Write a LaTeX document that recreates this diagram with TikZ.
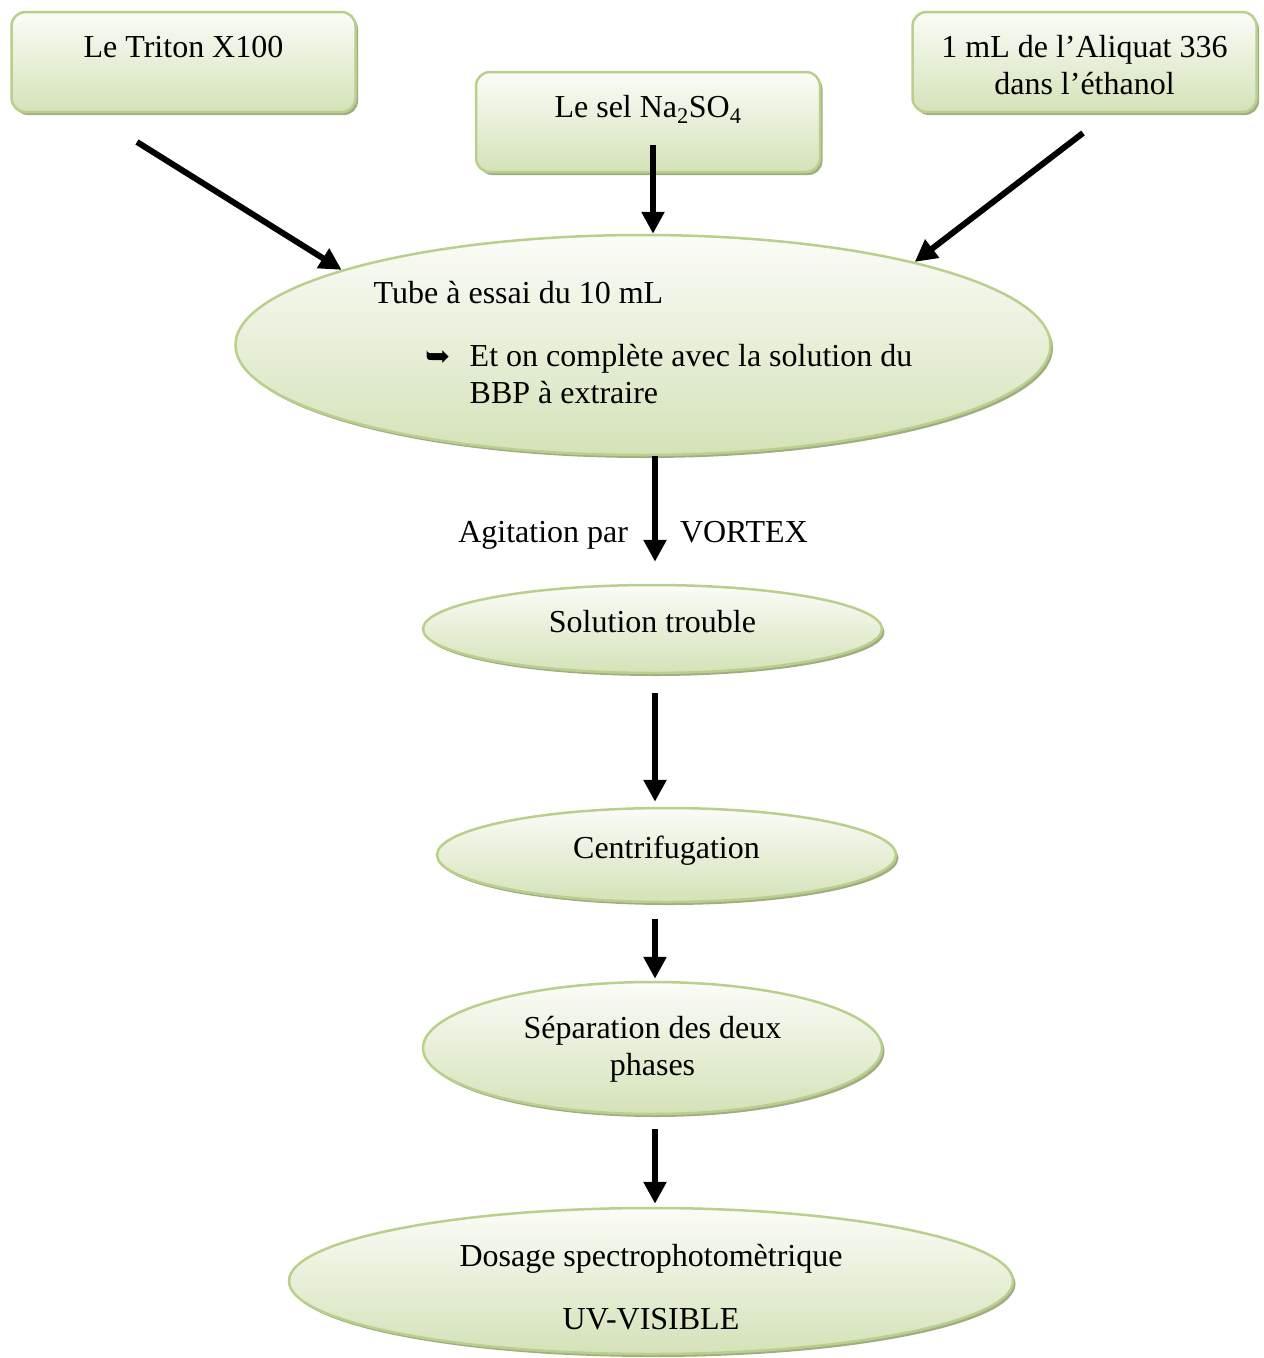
\documentclass[tikz,border=0pt]{standalone}
\usepackage{fontspec}
\setmainfont{Liberation Serif}
\newfontfamily\symb{DejaVu Sans}
\usepackage{tikz}
\usetikzlibrary{calc,shapes.geometric,shadows,arrows.meta}

\definecolor{bordvert}{HTML}{B9CF8C}
\definecolor{hautvert}{HTML}{FBFCF8}
\definecolor{basvert}{HTML}{D4E2B8}
\definecolor{ombrevert}{HTML}{A0AD82}

\tikzset{
  ombre/.style={drop shadow={shadow xshift=2.5pt, shadow yshift=-3pt, fill=ombrevert, opacity=1}},
  boite/.style={draw=bordvert, line width=2.5pt, rounded corners=14pt, top color=hautvert, bottom color=basvert,
    inner sep=0pt, text height=45pt, text depth=55pt, minimum width=344pt, ombre},
  bulle/.style={ellipse, draw=bordvert, line width=2.5pt, top color=hautvert, bottom color=basvert,
    inner sep=0pt, text height=22pt, ombre},
  fleche/.style={line width=6pt, -{Triangle[length=22pt,width=22pt]}},
  etiq/.style={inner sep=0pt, text height=22pt, text depth=7pt}
}

\begin{document}
\begin{tikzpicture}[x=1pt, y=-1pt, font=\fontsize{32}{37}\selectfont]
\useasboundingbox (0,0) rectangle (1264,1358);

% les trois ajouts
\node[boite] (triton) at (183.5,62) {Le Triton X100};
\node[boite] (sel) at (648,122) {Le sel Na\textsubscript{2}SO\textsubscript{4}};
\node[boite] (aliquat) at (1084.5,62) {\begin{tabular}[t]{@{}c@{}}1 mL de l’Aliquat 336\\ dans l’éthanol\end{tabular}};

% les etapes
\node[bulle, minimum width=815pt, minimum height=220pt, text depth=106pt] (tube) at (643,345)
  {\begin{tabular}[t]{@{}l@{}}Tube à essai du 10 mL\\[26pt]
   \hspace*{52pt}\makebox[44pt][l]{\symb\fontsize{30}{30}\selectfont ➥}Et on complète avec la solution du\\
   \hspace*{96pt}BBP à extraire\end{tabular}};
\node[bulle, minimum width=459pt, minimum height=88pt, text depth=16pt] (sol) at (652.5,629) {Solution trouble};
\node[bulle, minimum width=459pt, minimum height=94pt, text depth=16pt] (centri) at (666.5,855) {Centrifugation};
\node[bulle, minimum width=459pt, minimum height=132pt, text depth=42pt] (sep) at (652.5,1048)
  {\begin{tabular}[t]{@{}c@{}}Séparation des deux\\ phases\end{tabular}};
\node[bulle, minimum width=724pt, minimum height=146pt, text depth=52pt] (dosage) at (651,1281)
  {\begin{tabular}[t]{@{}c@{}}Dosage spectrophotomètrique\\[26pt] UV-VISIBLE\end{tabular}};

% les fleches
\coordinate (axe) at (655,0);
\coordinate (d1) at (137,142);
\coordinate (d2) at (653,145);
\coordinate (d3) at (1083,133);
\draw[fleche] (d1) -- (tube.166);
\draw[fleche] (d2) -- (d2 |- tube.north);
\draw[fleche] (d3) -- (tube.17);
\draw[fleche, shorten >=22pt] (tube.south -| axe) --
  node[etiq, pos=0.62, left=24pt] (agit) {Agitation par}
  node[etiq, pos=0.62, right=22pt] (vortex) {VORTEX} (sol.north -| axe);
\draw[fleche, shorten <=19pt, shorten >=5pt] (sol.south -| axe) -- (centri.north -| axe);
\draw[fleche, shorten <=16pt, shorten >=2pt] (centri.south -| axe) -- (sep.north -| axe);
\draw[fleche, shorten <=14pt, shorten >=3pt] (sep.south -| axe) -- (dosage.north -| axe);
\end{tikzpicture}
\end{document}
